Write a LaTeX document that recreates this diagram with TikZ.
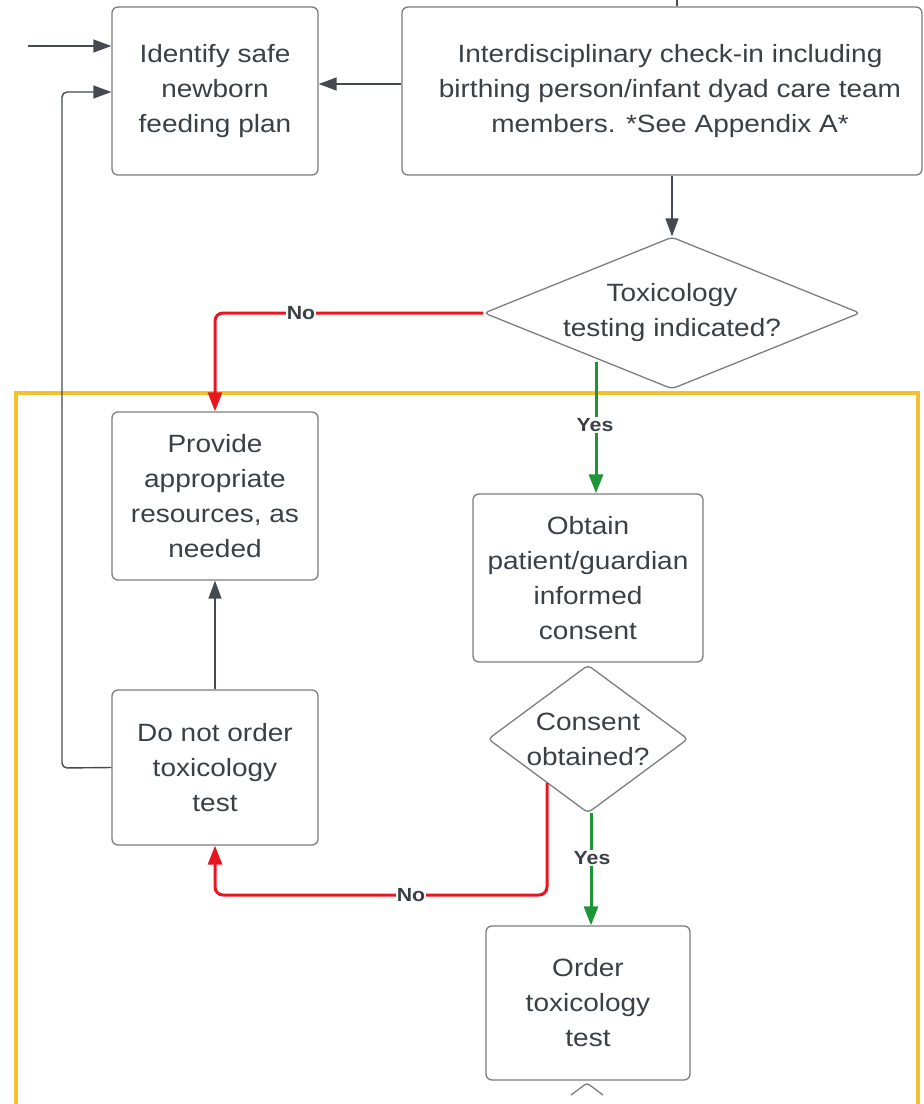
\documentclass[tikz,border=0pt]{standalone}
\usepackage{fontspec}
\setmainfont{Liberation Sans}[FakeStretch=1.12]
\usetikzlibrary{arrows.meta,shapes.geometric}
\definecolor{txt}{HTML}{3A4046}
\definecolor{bord}{HTML}{7B7D80}
\definecolor{arrg}{HTML}{444A50}
\definecolor{rd}{HTML}{E8161E}
\definecolor{gr}{HTML}{1E9638}
\definecolor{yl}{HTML}{F4C12E}
\newcommand\boxfont{\fontsize{25}{35}\selectfont}
\newcommand\labfont{\fontsize{19}{20}\selectfont\bfseries}
\begin{document}
\begin{tikzpicture}[x=1pt,y=-1pt,
  box/.style={draw=bord, line width=1.3pt, rounded corners=6pt, fill=white, text=txt, align=center, font=\boxfont, inner sep=0pt},
  dia/.style={diamond, draw=bord, line width=1.3pt, rounded corners=4pt, fill=white, text=txt, align=center, font=\boxfont, inner sep=0pt},
  garr/.style={draw=arrg, line width=1.4pt, -{Triangle[length=18pt,width=13pt]}},
  redarr/.style={draw=rd, line width=3pt, rounded corners=8pt, -{Triangle[length=19pt,width=14pt]}},
  grnarr/.style={draw=gr, line width=3pt, -{Triangle[length=19pt,width=14pt]}},
  lab/.style={font=\labfont, text=txt, fill=white, inner sep=1pt}]
\useasboundingbox (0,0) rectangle (924,1104);

% yellow frame
\draw[yl, line width=3.5pt] (16,1110) -- (16,393) -- (918,393) -- (918,1110);

% boxes
\node[box, minimum width=206pt, minimum height=168pt] (A) at (215,91) {Identify safe\\newborn\\feeding plan};
\node[box, minimum width=520pt, minimum height=168pt] (B) at (662,91) {\hspace*{16pt}Interdisciplinary check-in including\\\hspace*{16pt}birthing person/infant dyad care team\\\hspace*{16pt}members. *See Appendix A*};
\node[dia, aspect=2.47, minimum width=376pt, minimum height=152pt] (T) at (672,313) {Toxicology\\testing indicated?};
\node[box, minimum width=206pt, minimum height=168pt] (C) at (215,496) {Provide\\appropriate\\resources, as\\needed};
\node[box, minimum width=230pt, minimum height=168pt] (D) at (588,578) {Obtain\\patient/guardian\\informed\\consent};
\node[dia, aspect=1.35, minimum width=200pt, minimum height=148pt] (K) at (588,739) {Consent\\obtained?};
\node[box, minimum width=206pt, minimum height=155pt] (E) at (215,767.5) {Do not order\\toxicology\\test};
\node[box, minimum width=204pt, minimum height=154pt] (F) at (588,1003) {Order\\toxicology\\test};

% partial shape below F
\draw[bord, line width=1.3pt, rounded corners=3pt] (571,1095) -- (587,1083) -- (603,1095);

% coordinates
\coordinate (in) at (28,46);
\coordinate (top) at (677,0);
\coordinate (lb) at (62,768);
\coordinate (lt) at (62,92);
\coordinate (n1) at (215,313);
\coordinate (y1) at (596,362);
\coordinate (s2) at (547,783);
\coordinate (c2a) at (547,895);
\coordinate (c2b) at (215,895);
\coordinate (y2) at (591,813);

% gray connectors
\draw[arrg, line width=1.4pt] (top) -- ++(0,6);
\draw[garr] (in) -- (A.west |- in);
\draw[garr] ([yshift=7pt]B.west) -- ([yshift=7pt]A.east);
\draw[garr, rounded corners=5pt] (E.west) -- (lb) -- (lt) -- (A.west |- lt);
\draw[garr] (T.north |- B.south) -- (T.north);
\draw[garr] (E.north) -- (C.south);

% red connectors
\draw[redarr] (T.west) -- (n1) -- (C.north);
\node[lab] (no1) at (301,313) {No};
\draw[redarr] (s2) -- (c2a) -- (c2b) -- (E.south);
\node[lab] (no2) at (411,895) {No};

% green connectors
\draw[grnarr] (y1) -- (y1 |- D.north);
\node[lab] (yes1) at (595,425) {Yes};
\draw[grnarr] (y2) -- (y2 |- F.north);
\node[lab] (yes2) at (592,858) {Yes};
\end{tikzpicture}
\end{document}
